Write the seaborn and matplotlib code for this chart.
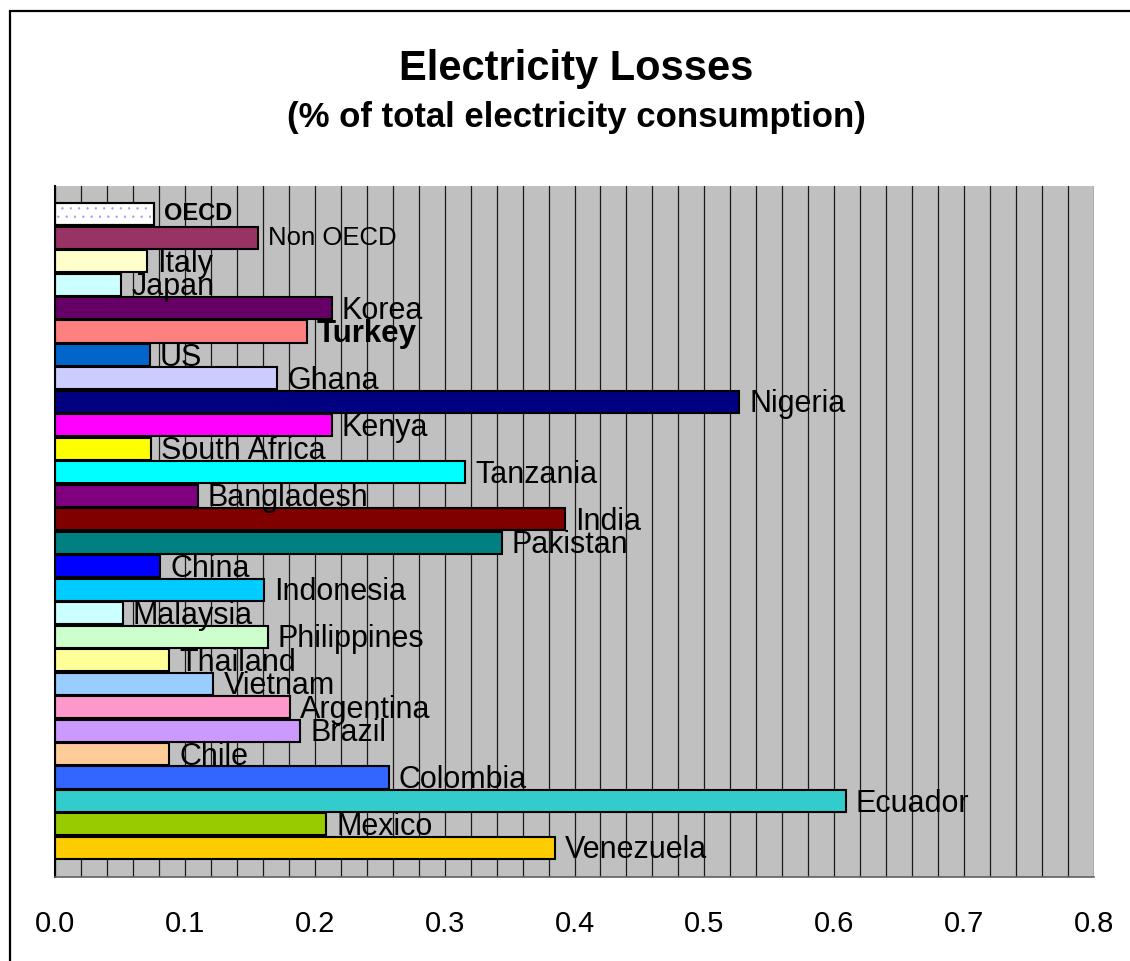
import numpy as np
import pandas as pd
import matplotlib
matplotlib.use("Agg")
import matplotlib.pyplot as plt
from matplotlib.patches import Rectangle
import seaborn as sns

# Electricity losses, share of total electricity consumption
countries = [
    "OECD", "Non OECD", "Italy", "Japan", "Korea", "Turkey", "US", "Ghana",
    "Nigeria", "Kenya", "South Africa", "Tanzania", "Bangladesh", "India",
    "Pakistan", "China", "Indonesia", "Malaysia", "Philippines", "Thailand",
    "Vietnam", "Argentina", "Brazil", "Chile", "Colombia", "Ecuador",
    "Mexico", "Venezuela",
]
losses = [
    0.076, 0.156, 0.071, 0.051, 0.213, 0.194, 0.073, 0.171,
    0.527, 0.213, 0.074, 0.316, 0.110, 0.393,
    0.344, 0.081, 0.161, 0.052, 0.164, 0.088,
    0.122, 0.181, 0.189, 0.088, 0.257, 0.609,
    0.209, 0.385,
]
bar_colors = [
    "#FFFFFF", "#993366", "#FFFFCC", "#CCFFFF", "#660066", "#FF8080", "#0066CC", "#CCCCFF",
    "#000080", "#FF00FF", "#FFFF00", "#00FFFF", "#800080", "#800000",
    "#008080", "#0000FF", "#00CCFF", "#CCFFFF", "#CCFFCC", "#FFFF99",
    "#99CCFF", "#FF99CC", "#CC99FF", "#FFCC99", "#3366FF", "#33CCCC",
    "#99CC00", "#FFCC00",
]
x_ticks = [0.0, 0.1, 0.2, 0.3, 0.4, 0.5, 0.6, 0.7, 0.8]
x_tick_labels = ["0.0", "0.1", "0.2", "0.3", "0.4", "0.5", "0.6", "0.7", "0.8"]

sns.set_style("white")
plt.rcParams["font.family"] = ["Liberation Sans", "DejaVu Sans"]
plt.rcParams["text.color"] = "black"
plt.rcParams["hatch.linewidth"] = 0.4

df = pd.DataFrame({"country": countries, "loss": losses})

W, H, DPI = 1130, 961, 100
fig = plt.figure(figsize=(W / DPI, H / DPI), dpi=DPI)
ax = fig.add_axes([55 / W, 1 - 877 / H, (1094 - 55) / W, (877 - 186) / H])
ax.set_facecolor("#C0C0C0")

sns.barplot(
    data=df, x="loss", y="country", hue="country",
    palette=dict(zip(countries, bar_colors)), orient="h",
    width=0.94, edgecolor="black", linewidth=1.5,
    legend=False, saturation=1, ax=ax,
)

# dotted fill for the OECD aggregate bar
oecd = ax.patches[0]
ax.add_patch(Rectangle(
    (oecd.get_x(), oecd.get_y()), oecd.get_width(), oecd.get_height(),
    facecolor="none", edgecolor="#9999FF", linewidth=0, hatch="..",
    zorder=oecd.get_zorder() + 0.1,
))
ax.add_patch(Rectangle(
    (oecd.get_x(), oecd.get_y()), oecd.get_width(), oecd.get_height(),
    facecolor="none", edgecolor="black", linewidth=1.5, zorder=oecd.get_zorder() + 0.2,
))

# vertical gridlines every 0.02
ax.set_xlim(0, 0.8)
ax.set_xticks(x_ticks)
ax.set_xticklabels(x_tick_labels)
ax.set_xticks(np.arange(0.02, 0.801, 0.02), minor=True)
ax.grid(which="both", axis="x", color="#1a1a1a", linewidth=0.9)
ax.grid(axis="y", visible=False)
ax.set_axisbelow(True)
ax.set_ylim(len(countries) - 0.5 + 0.74, -1.2)

ax.tick_params(axis="x", which="major", direction="out", length=6.5, width=1,
               color="#606060", pad=17, labelsize=21, labelcolor="black")
ax.tick_params(axis="x", which="minor", length=0)
ax.tick_params(axis="y", left=False, labelleft=False)
ax.set_xlabel("")
ax.set_ylabel("")

for side in ("top", "right"):
    ax.spines[side].set_visible(False)
ax.spines["left"].set_color("black")
ax.spines["left"].set_linewidth(1.5)
ax.spines["bottom"].set_color("#606060")
ax.spines["bottom"].set_linewidth(1.2)

# country labels beside the bars
for i, (name, val) in enumerate(zip(countries, losses)):
    size, weight, dy = 22, "normal", -7.6
    if name == "OECD":
        size, weight, dy = 17, "bold", -4.0
    elif name == "Non OECD":
        size, weight, dy = 18.5, "normal", -5.0
    elif name == "Turkey":
        size, weight, dy = 22.5, "bold", -7.6
    ax.annotate(name, xy=(val, i), xytext=(7.2, dy), textcoords="offset points",
                ha="left", va="baseline", fontsize=size, fontweight=weight,
                color="black", annotation_clip=False)

fig.text(576 / W, 1 - 80 / H, "Electricity Losses", ha="center", va="baseline",
         fontsize=30, fontweight="bold", color="black")
fig.text(576 / W, 1 - 127 / H, "(% of total electricity consumption)", ha="center",
         va="baseline", fontsize=25, fontweight="bold", color="black")

# outer chart frame
fig.add_artist(Rectangle((9.5 / W, -0.1), 1.2, (1 - 10.5 / H) + 0.1,
                         transform=fig.transFigure, fill=False,
                         edgecolor="black", linewidth=1.6))

fig.savefig("out.png", dpi=DPI)
